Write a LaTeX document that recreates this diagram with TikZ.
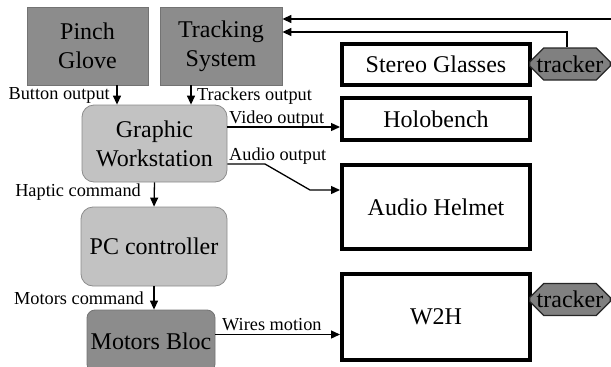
\documentclass[tikz,border=0pt]{standalone}
\usepackage{fontspec}
\setmainfont{Liberation Serif}
\usetikzlibrary{arrows.meta,shapes.misc}
\begin{document}
\begin{tikzpicture}[x=1pt,y=-1pt,
  big/.style={font=\fontsize{24}{29}\selectfont, align=center, inner sep=0pt},
  darkbox/.style={big, draw=black!55, line width=0.8pt, fill=black!45, minimum width=#1},
  lightbox/.style={big, draw=black!45, line width=0.8pt, fill=black!24, rounded corners=12pt, minimum width=#1},
  device/.style={big, draw=black, line width=4pt, fill=white, minimum width=188pt},
  trackertag/.style={big, chamfered rectangle, chamfered rectangle xsep=7pt, chamfered rectangle ysep=7pt,
    draw=black!85, line width=1.2pt, fill=black!50, minimum width=76pt, minimum height=32pt, inner sep=0pt},
  lbl/.style={font=\fontsize{18.3}{21}\selectfont, inner sep=0pt},
  arr/.style={line width=1.3pt, -{Triangle[length=9pt,width=8pt]}},
  wire/.style={line width=1.3pt}]
\useasboundingbox (0,0) rectangle (611,367);

% input devices and processing chain
\node[darkbox=121pt, minimum height=78pt] (pg) at (87.5,46) {Pinch\\Glove};
\node[darkbox=122pt, minimum height=78pt] (ts) at (221,46) {Tracking\\System};
\node[lightbox=145pt, minimum height=77pt] (gw) at (154.5,143.5) {Graphic\\Workstation};
\node[lightbox=146pt, minimum height=79pt] (pc) at (154,246.5) {PC controller};
\node[darkbox=128pt, minimum height=62pt, rounded corners=8pt] (mb) at (151,341) {Motors Bloc};

% output devices
\node[device, minimum height=41pt] (sg) at (436,64.5) {Stereo Glasses};
\node[device, minimum height=42pt] (hb) at (436,119) {Holobench};
\node[device, minimum height=84pt] (ah) at (436,207) {Audio Helmet};
\node[device, minimum height=86pt] (w2h) at (436,317) {W2H};

% trackers mounted on the devices
\node[trackertag] (tr1) at (570,64) {tracker};
\node[trackertag] (tr2) at (570,299.5) {tracker};

% tracker feedback to the tracking system
\coordinate (up1) at (567,32);
\coordinate (up2) at (625,19);
\draw[arr] (tr1.north -| up1) |- (ts.east |- up1);
\draw[arr] (tr2.east) -- (tr2.east -| up2) -- (up2) -- (ts.east |- up2);

% signal flow
\draw[arr] ([xshift=29.5pt]pg.south) -- ([xshift=29.5pt]pg.south |- gw.north);
\draw[arr] ([xshift=-30pt]ts.south) -- ([xshift=-30pt]ts.south |- gw.north);
\coordinate (v1) at (300,127);
\draw[arr] (gw.east |- v1) -- (hb.west |- v1);
\coordinate (a1) at (265,164);
\coordinate (a2) at (310,190);
\draw[arr] (gw.east |- a1) -- (a1) -- (a2) -- (ah.west |- a2);
\draw[arr] (gw.south) -- (pc.north);
\draw[arr] (pc.south) -- (pc.south |- mb.north);
\coordinate (m1) at (300,334.5);
\draw[arr] (mb.east |- m1) -- (w2h.west |- m1);

% connector labels
\node[lbl, anchor=base east] (l1) at (110,99) {Button output};
\node[lbl, anchor=base west] (l2) at (197,100) {Trackers output};
\node[lbl, anchor=base west] (l3) at (229,123) {Video output};
\node[lbl, anchor=base west] (l4) at (229,160) {Audio output};
\node[lbl, anchor=base east] (l5) at (141,196) {Haptic command};
\node[lbl, anchor=base east] (l6) at (144,304) {Motors command};
\node[lbl, anchor=base west] (l7) at (222,330) {Wires motion};
\end{tikzpicture}
\end{document}
